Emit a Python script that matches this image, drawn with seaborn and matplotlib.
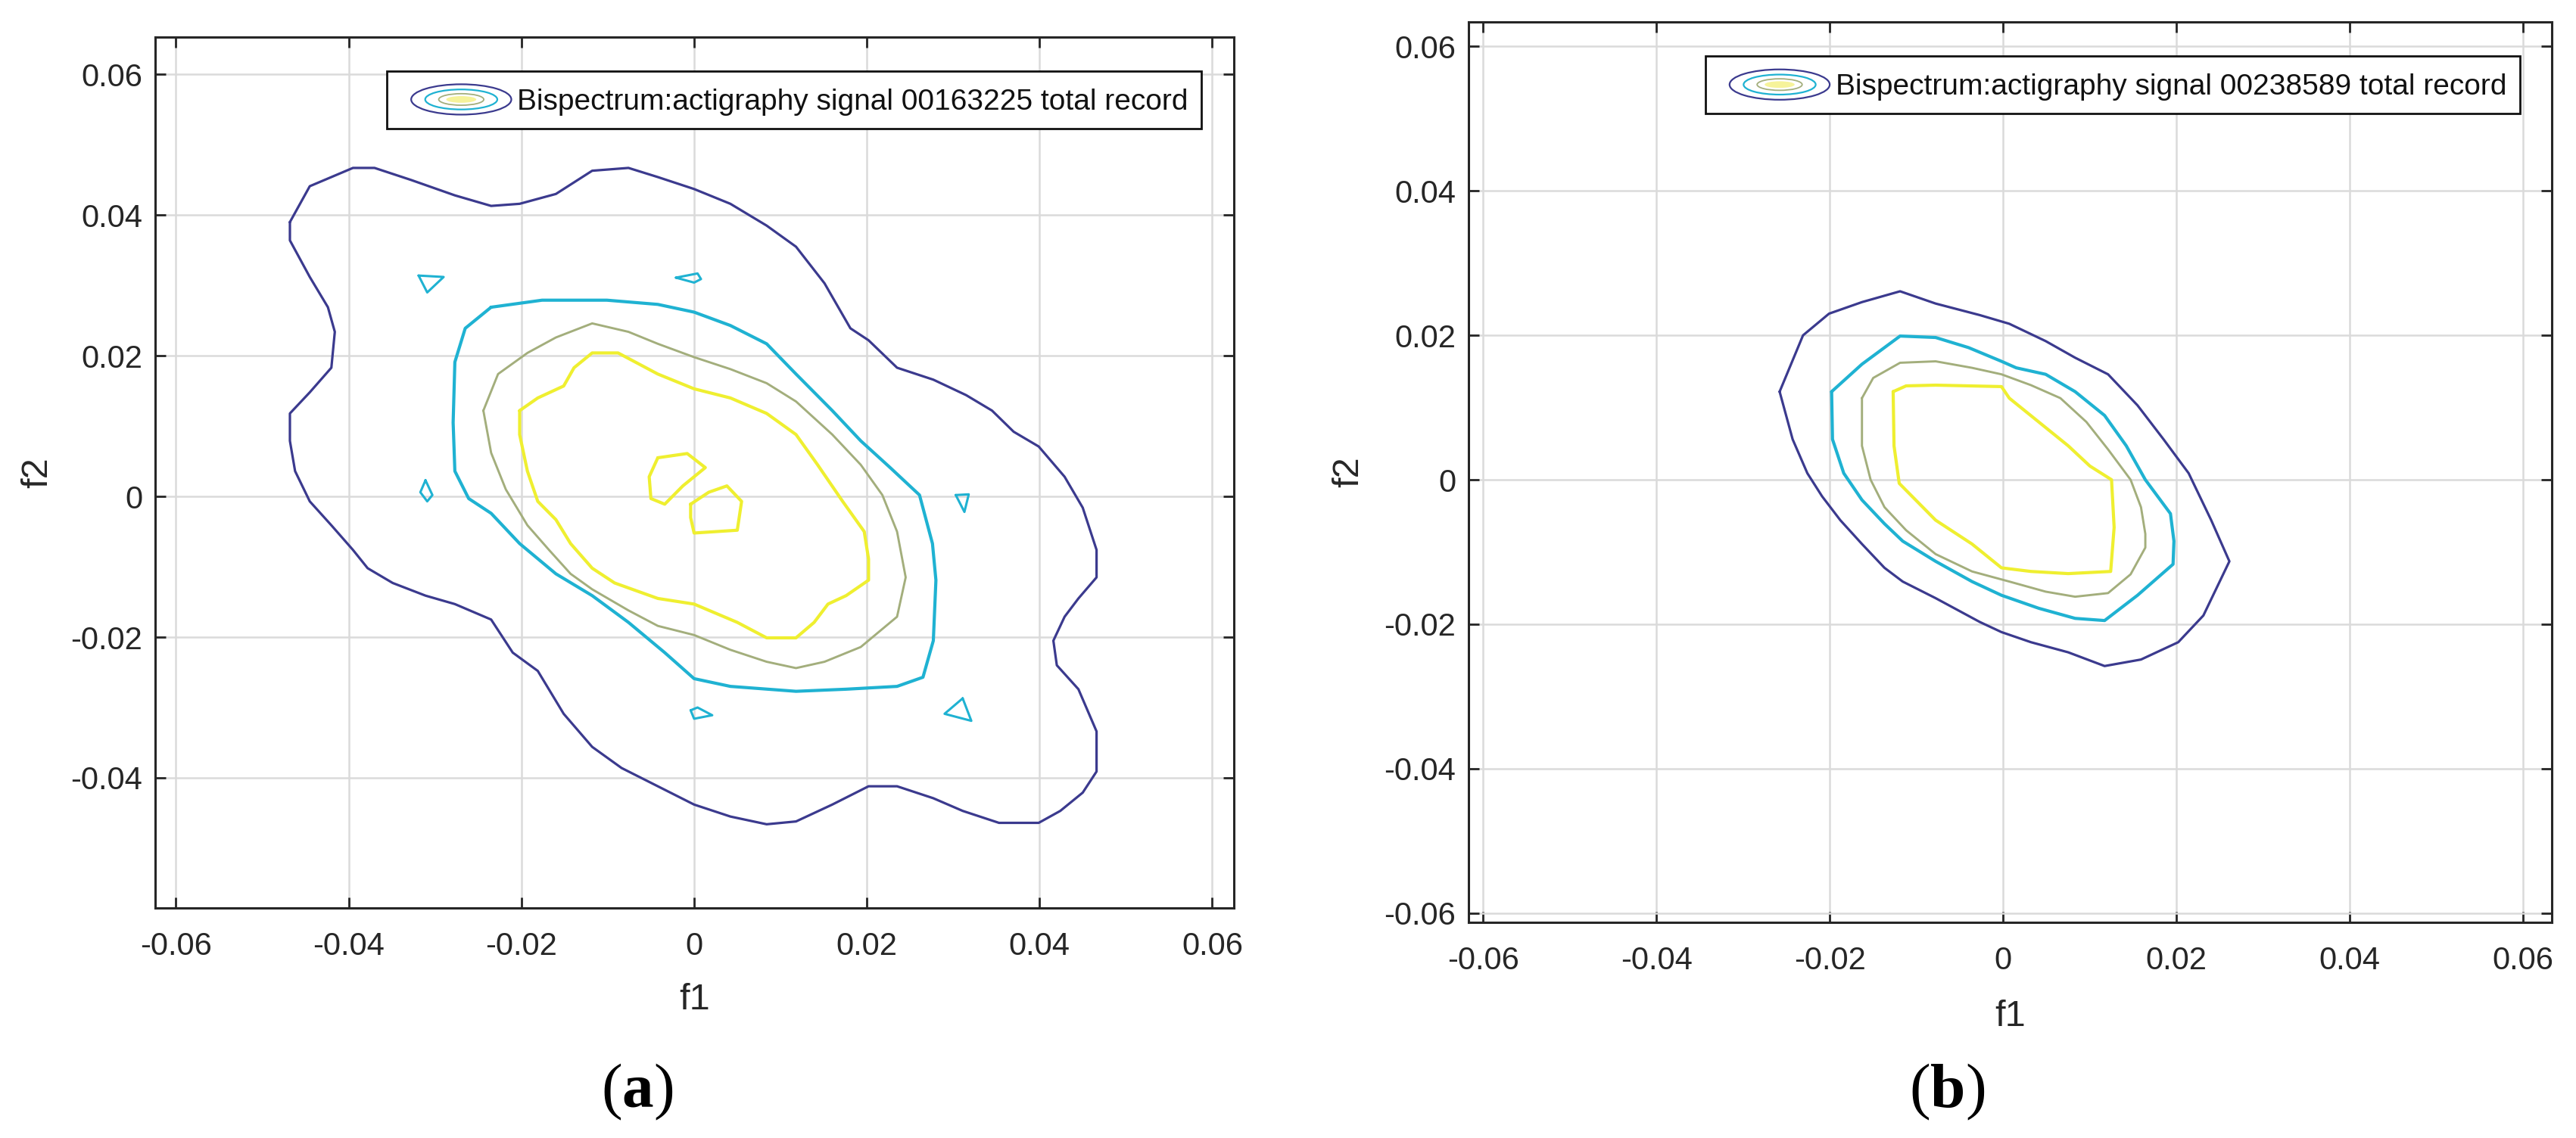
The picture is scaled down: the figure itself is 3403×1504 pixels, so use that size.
import matplotlib
matplotlib.use('Agg')
import matplotlib.pyplot as plt
import seaborn as sns
from matplotlib.legend_handler import HandlerBase
from matplotlib.patches import Ellipse

# 1. Datos (curvas de nivel del biespectro, en unidades f1/f2)
# Panel (a): senal 00163225
a_n1_x = [-0.0468, -0.0445, -0.0420, -0.0395, -0.0370, -0.0328, -0.0277, -0.0235, -0.0202, -0.0160,
          -0.0118, -0.0076, -0.0042, 0.0000, 0.0042, 0.0084, 0.0118, 0.0151, 0.0181, 0.0202,
          0.0235, 0.0277, 0.0315, 0.0345, 0.0370, 0.0399, 0.0429, 0.0450, 0.0466, 0.0466,
          0.0445, 0.0429, 0.0416, 0.0420, 0.0445, 0.0466, 0.0466, 0.0450, 0.0424, 0.0399,
          0.0353, 0.0311, 0.0277, 0.0235, 0.0202, 0.0160, 0.0118, 0.0084, 0.0042, 0.0000,
          -0.0042, -0.0084, -0.0118, -0.0151, -0.0181, -0.0210, -0.0235, -0.0277, -0.0311, -0.0349,
          -0.0378, -0.0395, -0.0420, -0.0445, -0.0462, -0.0468, -0.0468, -0.0445, -0.0420, -0.0416,
          -0.0424, -0.0445, -0.0468]
a_n1_y = [0.0390, 0.0441, 0.0454, 0.0467, 0.0467, 0.0450, 0.0428, 0.0413, 0.0416, 0.0430,
          0.0463, 0.0467, 0.0454, 0.0437, 0.0416, 0.0385, 0.0355, 0.0303, 0.0239, 0.0222,
          0.0183, 0.0166, 0.0144, 0.0122, 0.0092, 0.0071, 0.0028, -0.0016, -0.0076, -0.0115,
          -0.0145, -0.0171, -0.0205, -0.0240, -0.0274, -0.0334, -0.0391, -0.0421, -0.0447, -0.0464,
          -0.0464, -0.0447, -0.0429, -0.0412, -0.0412, -0.0438, -0.0462, -0.0466, -0.0455, -0.0438,
          -0.0412, -0.0386, -0.0356, -0.0309, -0.0248, -0.0222, -0.0175, -0.0153, -0.0141, -0.0123,
          -0.0102, -0.0076, -0.0041, -0.0007, 0.0036, 0.0079, 0.0118, 0.0148, 0.0183, 0.0234,
          0.0269, 0.0312, 0.0364]

a_n2_x = [-0.0235, -0.0176, -0.0101, -0.0042, 0.0000, 0.0042, 0.0084, 0.0118, 0.0160, 0.0193,
          0.0227, 0.0261, 0.0276, 0.0280, 0.0277, 0.0265, 0.0235, 0.0176, 0.0118, 0.0042,
          0.0000, -0.0034, -0.0076, -0.0118, -0.0160, -0.0202, -0.0235, -0.0261, -0.0277, -0.0279,
          -0.0277, -0.0265]
a_n2_y = [0.0269, 0.0279, 0.0279, 0.0273, 0.0262, 0.0243, 0.0217, 0.0174, 0.0122, 0.0079,
          0.0041, 0.0002, -0.0067, -0.0119, -0.0205, -0.0257, -0.0270, -0.0274, -0.0277, -0.0270,
          -0.0259, -0.0222, -0.0179, -0.0141, -0.0110, -0.0067, -0.0024, -0.0003, 0.0036, 0.0105,
          0.0191, 0.0239]

# islas pequenas del nivel cian
a_islas_n2_x = [[-0.0319, -0.0290, -0.0309],
                [-0.0021, 0.0004, 0.0008, 0.0000],
                [-0.0311, -0.0303, -0.0309, -0.0317],
                [0.0303, 0.0318, 0.0313],
                [-0.0004, 0.0004, 0.0021, 0.0000],
                [0.0311, 0.0321, 0.0290]]
a_islas_n2_y = [[0.0314, 0.0312, 0.0290],
                [0.0311, 0.0317, 0.0309, 0.0304],
                [0.0023, 0.0002, -0.0007, 0.0006],
                [0.0002, 0.0003, -0.0022],
                [-0.0304, -0.0300, -0.0311, -0.0316],
                [-0.0287, -0.0319, -0.0309]]

a_n3_x = [-0.0244, -0.0227, -0.0193, -0.0160, -0.0118, -0.0076, -0.0042, 0.0000, 0.0042, 0.0084,
          0.0118, 0.0160, 0.0193, 0.0218, 0.0235, 0.0245, 0.0235, 0.0193, 0.0151, 0.0118,
          0.0084, 0.0042, 0.0000, -0.0042, -0.0076, -0.0118, -0.0143, -0.0168, -0.0193, -0.0218,
          -0.0235]
a_n3_y = [0.0122, 0.0174, 0.0204, 0.0226, 0.0246, 0.0234, 0.0217, 0.0198, 0.0181, 0.0161,
          0.0135, 0.0088, 0.0045, 0.0002, -0.0050, -0.0115, -0.0171, -0.0214, -0.0235, -0.0244,
          -0.0235, -0.0218, -0.0197, -0.0184, -0.0162, -0.0132, -0.0110, -0.0076, -0.0041, 0.0010,
          0.0062]

a_n4_x = [-0.0202, -0.0181, -0.0151, -0.0139, -0.0118, -0.0088, -0.0042, 0.0000, 0.0042, 0.0084,
          0.0118, 0.0143, 0.0172, 0.0197, 0.0202, 0.0202, 0.0176, 0.0155, 0.0139, 0.0118,
          0.0084, 0.0050, 0.0000, -0.0042, -0.0092, -0.0118, -0.0143, -0.0160, -0.0181, -0.0193,
          -0.0202]
a_n4_y = [0.0122, 0.0140, 0.0157, 0.0183, 0.0204, 0.0204, 0.0174, 0.0153, 0.0140, 0.0118,
          0.0088, 0.0045, -0.0007, -0.0050, -0.0089, -0.0119, -0.0141, -0.0153, -0.0179, -0.0201,
          -0.0201, -0.0179, -0.0153, -0.0145, -0.0123, -0.0102, -0.0067, -0.0033, -0.0007, 0.0036,
          0.0088]

a_islas_n4_x = [[-0.0042, -0.0008, 0.0013, -0.0013, -0.0034, -0.0050, -0.0052],
                [-0.0004, 0.0017, 0.0038, 0.0055, 0.0050, 0.0000, -0.0004]]
a_islas_n4_y = [[0.0055, 0.0061, 0.0041, 0.0015, -0.0011, -0.0003, 0.0028],
                [-0.0011, 0.0006, 0.0015, -0.0007, -0.0048, -0.0052, -0.0030]]

# Panel (b): senal 00238589
b_n1_x = [-0.0258, -0.0231, -0.0201, -0.0163, -0.0119, -0.0078, -0.0027, 0.0007, 0.0049, 0.0083,
          0.0121, 0.0155, 0.0185, 0.0214, 0.0240, 0.0261, 0.0231, 0.0202, 0.0159, 0.0117,
          0.0075, 0.0032, -0.0002, -0.0027, -0.0078, -0.0116, -0.0137, -0.0163, -0.0188, -0.0209,
          -0.0226, -0.0243]
b_n1_y = [0.0122, 0.0200, 0.0230, 0.0246, 0.0261, 0.0244, 0.0228, 0.0216, 0.0192, 0.0169,
          0.0146, 0.0103, 0.0056, 0.0009, -0.0056, -0.0113, -0.0188, -0.0225, -0.0249, -0.0258,
          -0.0239, -0.0225, -0.0211, -0.0197, -0.0164, -0.0141, -0.0122, -0.0089, -0.0056, -0.0023,
          0.0009, 0.0056]

b_n2_x = [-0.0198, -0.0163, -0.0119, -0.0078, -0.0040, -0.0002, 0.0015, 0.0049, 0.0083, 0.0117,
          0.0142, 0.0164, 0.0193, 0.0197, 0.0196, 0.0155, 0.0117, 0.0083, 0.0041, -0.0002,
          -0.0036, -0.0078, -0.0116, -0.0137, -0.0163, -0.0184, -0.0197]
b_n2_y = [0.0122, 0.0160, 0.0199, 0.0197, 0.0183, 0.0164, 0.0155, 0.0146, 0.0122, 0.0089,
          0.0047, 0.0000, -0.0047, -0.0085, -0.0117, -0.0160, -0.0195, -0.0192, -0.0178, -0.0160,
          -0.0141, -0.0113, -0.0085, -0.0061, -0.0028, 0.0009, 0.0056]

b_n3_x = [-0.0163, -0.0150, -0.0119, -0.0078, -0.0036, -0.0002, 0.0032, 0.0066, 0.0096, 0.0121,
          0.0147, 0.0159, 0.0164, 0.0164, 0.0147, 0.0121, 0.0083, 0.0049, 0.0007, -0.0036,
          -0.0078, -0.0112, -0.0137, -0.0153, -0.0163]
b_n3_y = [0.0113, 0.0141, 0.0162, 0.0164, 0.0155, 0.0146, 0.0131, 0.0113, 0.0080, 0.0042,
          0.0000, -0.0038, -0.0075, -0.0094, -0.0131, -0.0157, -0.0162, -0.0155, -0.0141, -0.0127,
          -0.0103, -0.0070, -0.0038, 0.0000, 0.0047]

b_n4_x = [-0.0127, -0.0112, -0.0078, -0.0002, 0.0007, 0.0041, 0.0075, 0.0100, 0.0125, 0.0128,
          0.0124, 0.0075, 0.0032, -0.0002, -0.0036, -0.0078, -0.0120, -0.0126]
b_n4_y = [0.0122, 0.0130, 0.0131, 0.0129, 0.0113, 0.0080, 0.0047, 0.0019, 0.0000, -0.0066,
          -0.0127, -0.0130, -0.0127, -0.0122, -0.0089, -0.0056, -0.0005, 0.0047]

# ejes y textos
ticks = [-0.06, -0.04, -0.02, 0.0, 0.02, 0.04, 0.06]
tick_labels = ['-0.06', '-0.04', '-0.02', '0', '0.02', '0.04', '0.06']
textos_leyenda = ['Bispectrum:actigraphy signal 00163225 total record',
                  'Bispectrum:actigraphy signal 00238589 total record']
letras_panel = ['a', 'b']

# 2. Estilo (colores parula de MATLAB)
colores = ['#3B3A8E', '#1FB2D2', '#A3AE7C', '#EFEF30']
anchos = [2.3, 3.0, 2.1, 3.0]
gris_texto = '#262626'
fs_tick, fs_label, fs_leg = 30, 35, 28

sns.set_style('ticks')
plt.rcParams['font.family'] = ['Liberation Sans', 'DejaVu Sans']
plt.rcParams['axes.unicode_minus'] = False
plt.rcParams['mathtext.fontset'] = 'custom'
plt.rcParams['mathtext.rm'] = 'Liberation Serif'
plt.rcParams['mathtext.bf'] = 'Liberation Serif:bold'


class HandlerElipses(HandlerBase):
    # icono de leyenda de contour de MATLAB: elipses concentricas
    def create_artists(self, legend, orig_handle, xdescent, ydescent, width, height, fontsize, trans):
        w = width * 0.9
        cx = width - w / 2 - xdescent
        cy = height / 2 - ydescent
        artistas = [Ellipse((cx, cy), w * 0.3, height * 0.22, facecolor='#F6F39A',
                            edgecolor='none', transform=trans)]
        for fw, fh, c, lw in zip([1.0, 0.72, 0.45], [1.0, 0.66, 0.38], colores[:3], [1.6, 1.6, 1.3]):
            artistas.append(Ellipse((cx, cy), w * fw, height * fh, fill=False,
                                    edgecolor=c, lw=lw, transform=trans))
        return artistas


def dibujar(ax, xs, ys, color, lw):
    sns.lineplot(x=xs + xs[:1], y=ys + ys[:1], sort=False, estimator=None,
                 color=color, linewidth=lw, ax=ax)


# 3. Figura
fig = plt.figure(figsize=(34.03, 15.04), dpi=100)
ax_a = fig.add_axes([0.06024, 0.20213, 0.41875, 0.76529])
ax_b = fig.add_axes([0.57008, 0.18949, 0.42051, 0.79122])

dibujar(ax_a, a_n1_x, a_n1_y, colores[0], anchos[0])
dibujar(ax_a, a_n2_x, a_n2_y, colores[1], anchos[1])
for xs, ys in zip(a_islas_n2_x, a_islas_n2_y):
    dibujar(ax_a, xs, ys, colores[1], 2.2)
dibujar(ax_a, a_n3_x, a_n3_y, colores[2], anchos[2])
dibujar(ax_a, a_n4_x, a_n4_y, colores[3], anchos[3])
for xs, ys in zip(a_islas_n4_x, a_islas_n4_y):
    dibujar(ax_a, xs, ys, colores[3], anchos[3])

dibujar(ax_b, b_n1_x, b_n1_y, colores[0], anchos[0])
dibujar(ax_b, b_n2_x, b_n2_y, colores[1], anchos[1])
dibujar(ax_b, b_n3_x, b_n3_y, colores[2], anchos[2])
dibujar(ax_b, b_n4_x, b_n4_y, colores[3], anchos[3])

config = [
    # ax, xlim, ylim, pos. f1, pos. f2, ancla leyenda, pos. letra
    (ax_a, (-0.0624, 0.0625), (-0.0585, 0.0653), -0.1008, -0.1088, (0.970, 0.961), 0.2474),
    (ax_b, (-0.0617, 0.0633), (-0.0613, 0.0634), -0.1008, -0.1104, (0.9706, 0.962), 0.7558),
]

em_leg = fs_leg * 100 / 72
for i, (ax, xlim, ylim, py_f1, px_f2, ancla, x_letra) in enumerate(config):
    ax.set_xticks(ticks, labels=tick_labels)
    ax.set_yticks(ticks, labels=tick_labels)
    ax.set_xlim(*xlim)
    ax.set_ylim(*ylim)
    ax.set_axisbelow(True)
    ax.grid(True, color='#DADADA', linewidth=1.8)
    ax.tick_params(direction='in', length=10, width=2, top=True, right=True,
                   color=gris_texto, labelcolor=gris_texto, labelsize=fs_tick)
    ax.tick_params(axis='x', pad=22)
    ax.tick_params(axis='y', pad=12)
    for sp in ax.spines.values():
        sp.set_visible(True)
        sp.set_linewidth(2.2)
        sp.set_color(gris_texto)

    ax.set_xlabel('f1', fontsize=fs_label, color=gris_texto, va='center_baseline')
    ax.xaxis.set_label_coords(0.5, py_f1)
    ax.set_ylabel('f2', fontsize=fs_label, color=gris_texto, va='center')
    ax.yaxis.set_label_coords(px_f2, 0.5)

    proxy = Ellipse((0, 0), 1, 1)
    leg = ax.legend(handles=[proxy], labels=[textos_leyenda[i]],
                    handler_map={Ellipse: HandlerElipses()},
                    loc='upper right', bbox_to_anchor=ancla, borderaxespad=0,
                    frameon=True, fancybox=False, framealpha=1, edgecolor='#111111',
                    fontsize=fs_leg, borderpad=0.45, handlelength=147 / em_leg,
                    handleheight=47 / em_leg, handletextpad=0.2)
    leg.get_frame().set_linewidth(2)
    for t in leg.get_texts():
        t.set_color('#111111')

    fig.text(x_letra, 0.0406, r'($\mathbf{' + letras_panel[i] + '}$)', ha='center', va='center',
             fontsize=60, family='Liberation Serif', color='black')

plt.savefig('out.png', dpi=100)
plt.close()
